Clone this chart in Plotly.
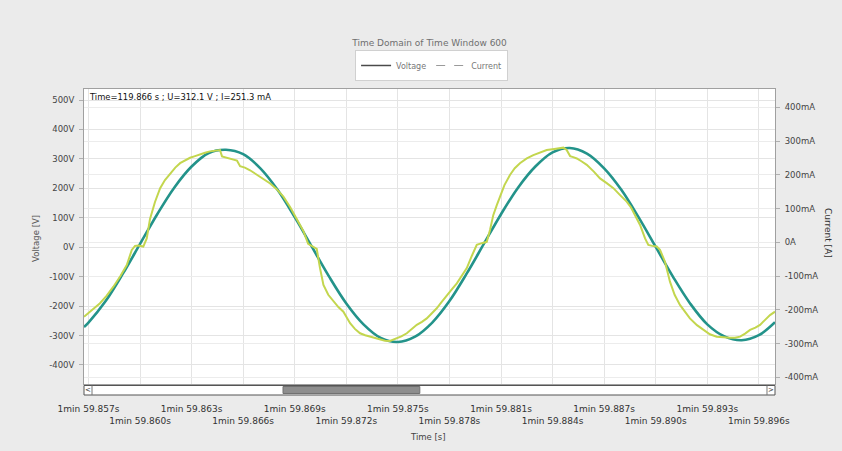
import plotly.graph_objects as go

# ---------------- data ----------------
# time axis: milliseconds after 1min 59.857s
X_TICKS_MS = [0, 3, 6, 9, 12, 15, 18, 21, 24, 27, 30, 33, 36, 39]
X_TICK_LABELS = ["1min 59.857s", "1min 59.860s", "1min 59.863s", "1min 59.866s",
                 "1min 59.869s", "1min 59.872s", "1min 59.875s", "1min 59.878s",
                 "1min 59.881s", "1min 59.884s", "1min 59.887s", "1min 59.890s",
                 "1min 59.893s", "1min 59.896s"]

V_TICKS = [-400, -300, -200, -100, 0, 100, 200, 300, 400, 500]
V_TICK_LABELS = ["-400V", "-300V", "-200V", "-100V", "0V", "100V", "200V", "300V", "400V", "500V"]
I_TICKS = [-400, -300, -200, -100, 0, 100, 200, 300, 400]
I_TICK_LABELS = ["-400mA", "-300mA", "-200mA", "-100mA", "0A", "100mA", "200mA", "300mA", "400mA"]

voltage_t_ms = [-0.26, 0, 1, 2, 3, 4, 5, 6, 7, 8, 9, 10, 11, 12, 13, 14, 15, 16, 17, 18, 19, 20,
                21, 22, 23, 24, 25, 26, 27, 28, 29, 30, 31, 32, 33, 34, 35, 36, 37, 38, 39, 39.94]
voltage_v = [-271, -256, -183, -90, 11, 112, 203, 274, 320, 331, 316, 268, 195, 102, 1, -100,
             -191, -262, -308, -322, -304, -256, -183, -90, 11, 112, 203, 274, 322, 337, 318,
             268, 195, 102, 1, -100, -191, -262, -303, -316, -299, -255]

current_t_ms = [-0.26, 0.67, 1.05, 1.45, 1.85, 2.23, 2.52, 2.71, 2.90, 3.19, 3.39, 3.58, 3.87,
                4.17, 4.45, 4.75, 5.05, 5.33, 5.62, 5.91, 6.2, 6.49, 6.78, 7.07, 7.3, 7.54, 7.65,
                7.77, 8.0, 8.24, 8.45, 8.64, 8.82, 9.1, 9.40, 9.7, 9.98, 10.3, 10.57, 10.95,
                11.34, 11.73, 12.12, 12.50, 12.78, 13.08, 13.28, 13.47, 13.67, 13.95, 14.25,
                14.55, 14.83, 15.22, 15.50, 15.80, 16.1, 16.38, 16.7, 16.96, 17.25, 17.54,
                17.93, 18.2, 18.52, 18.8, 19.10, 19.4, 19.68, 19.95, 20.26, 20.55, 20.84,
                21.15, 21.43, 21.7, 22.01, 22.3, 22.59, 22.88, 23.17, 23.36, 23.55, 23.75,
                23.94, 24.2, 24.52, 24.8, 25.10, 25.5, 25.88, 26.25, 26.66, 27.1, 27.63,
                27.82, 28.02, 28.2, 28.41, 28.7, 28.99, 29.4, 29.76, 30.15, 30.54, 30.9,
                31.31, 31.55, 31.80, 32.09, 32.38, 32.57, 32.8, 33.06, 33.25, 33.54, 33.83,
                34.1, 34.41, 34.7, 34.99, 35.4, 35.77, 36.15, 36.55, 36.9, 37.32, 37.6,
                37.91, 38.2, 38.49, 38.8, 39.07, 39.35, 39.65, 39.94]
current_ma = [-220, -180, -158, -131, -100, -67, -22, -10, -9, -12, 12, 70, 120,
              161, 185, 205, 222, 235, 244, 251, 256, 262, 266, 270, 272, 275, 274,
              255, 252, 247, 245, 243, 226, 222, 214, 204, 195, 183, 175, 158,
              136, 105, 67, 34, -4, -13, -19, -76, -126, -155, -175,
              -192, -205, -239, -256, -269, -275, -279, -285, -289, -291, -292,
              -284, -278, -269, -256, -244, -235, -225, -211, -195, -176, -156,
              -138, -121, -100, -76, -40, -7, -2, 2, 37, 81, 110,
              136, 170, 200, 220, 235, 249, 259, 267, 274, 277, 281,
              274, 256, 253, 249, 240, 230, 210, 190, 176, 161, 142,
              121, 105, 81, 52, 12, -7, -10, -12, -22, -57, -116,
              -155, -185, -207, -225, -245, -259, -272, -279, -281, -282, -282,
              -279, -270, -259, -252, -244, -230, -215, -205]

READOUT = "Time=119.866 s ; U=312.1 V ; I=251.3 mA"
TITLE = "Time Domain of Time Window 600"

# ---------------- styling ----------------
TEAL = "#23938a"
YELLOW = "#c3d64e"
GRID = "#e4e4e4"
FONT = "DejaVu Sans"

fig = go.Figure()

fig.add_trace(go.Scatter(x=voltage_t_ms, y=voltage_v, mode="lines", name="Voltage",
                         line=dict(color=TEAL, width=2.6, shape="spline"),
                         showlegend=False, xaxis="x", yaxis="y"))
fig.add_trace(go.Scatter(x=current_t_ms, y=current_ma, mode="lines", name="Current",
                         line=dict(color=YELLOW, width=2),
                         showlegend=False, xaxis="x", yaxis="y2"))
# legend entries (styled like the reference legend)
fig.add_trace(go.Scatter(x=[None], y=[None], mode="lines", name="Voltage",
                         line=dict(color="#4a4a4a", width=1.5), showlegend=True))
fig.add_trace(go.Scatter(x=[None], y=[None], mode="lines", name="Current",
                         line=dict(color="#9a9a9a", width=1.2, dash="dash"), showlegend=True))
# carrier for the second row of time labels
fig.add_trace(go.Scatter(x=[None], y=[None], xaxis="x2", yaxis="y", showlegend=False,
                         hoverinfo="skip"))

x_range = [-0.26, 39.94]
row1_text = [lab if i % 2 == 0 else "" for i, lab in enumerate(X_TICK_LABELS)]
row2_vals = [v for i, v in enumerate(X_TICKS_MS) if i % 2 == 1]
row2_text = [lab for i, lab in enumerate(X_TICK_LABELS) if i % 2 == 1]

fig.update_layout(
    width=842, height=451,
    margin=dict(l=84, r=67, t=89, b=67),
    paper_bgcolor="#ebebeb",
    plot_bgcolor="#ffffff",
    font=dict(family=FONT, size=9, color="#444"),
    title=dict(text=TITLE, x=0.5, xref="paper", xanchor="center",
               y=1 - 43 / 451, yref="container", yanchor="middle",
               font=dict(family=FONT, size=9, color="#6f6f6f")),
    legend=dict(orientation="h", x=0.503, xanchor="center", y=1.0797, yanchor="middle",
                bgcolor="#ffffff", bordercolor="#d0d0d0", borderwidth=1,
                font=dict(family=FONT, size=8, color="#777"), itemwidth=30,
                tracegroupgap=0),
    xaxis=dict(range=x_range, tickvals=X_TICKS_MS, ticktext=row1_text,
               showgrid=True, gridcolor=GRID, gridwidth=1, zeroline=False,
               showline=True, linecolor="#a0a0a0", mirror=True, ticks="",
               ticklabelstandoff=16, tickfont=dict(family=FONT, size=9, color="#333")),
    xaxis2=dict(range=x_range, overlaying="x", anchor="y", side="bottom",
                tickvals=row2_vals, ticktext=row2_text, showgrid=False, zeroline=False,
                showline=False, ticks="", ticklabelstandoff=30,
                tickfont=dict(family=FONT, size=9, color="#333")),
    yaxis=dict(range=[-464.7, 537.4], tickvals=V_TICKS, ticktext=V_TICK_LABELS,
               showgrid=True, gridcolor=GRID, zeroline=False,
               showline=True, linecolor="#a0a0a0", mirror=True,
               ticks="outside", ticklen=4, tickcolor="#b0b0b0", ticklabelstandoff=3,
               tickfont=dict(family=FONT, size=8.5, color="#444")),
    yaxis2=dict(range=[-419.3, 454.8], overlaying="y", side="right", anchor="x",
                tickvals=I_TICKS, ticktext=I_TICK_LABELS,
                showgrid=True, gridcolor="#ececec", zeroline=False, showline=False,
                ticks="outside", ticklen=4, tickcolor="#b0b0b0", ticklabelstandoff=3,
                tickfont=dict(family=FONT, size=8.5, color="#444")),
)

# axis titles and readout
fig.add_annotation(text="Voltage [V]", xref="paper", yref="paper", x=-0.0695, y=0.495,
                   xanchor="center", yanchor="middle",
                   textangle=-90, showarrow=False, font=dict(family=FONT, size=8.5, color="#555"))
fig.add_annotation(text="Current [A]", xref="paper", yref="paper", x=1.0767, y=0.512,
                   xanchor="center", yanchor="middle",
                   textangle=90, showarrow=False, font=dict(family=FONT, size=9, color="#333"))
fig.add_annotation(text="Time [s]", xref="paper", yref="paper", x=0.498, y=-0.179,
                   xanchor="center", yanchor="middle",
                   showarrow=False, font=dict(family=FONT, size=8.5, color="#444"))
fig.add_annotation(text=READOUT, xref="paper", yref="paper", x=0.004, y=0.973,
                   xanchor="left", yanchor="middle", showarrow=False,
                   font=dict(family=FONT, size=8.4, color="#111"))

# scrollbar under the plot
fig.add_shape(type="rect", xref="paper", yref="paper", x0=0, x1=1, y0=-0.0373, y1=-0.0051,
              fillcolor="#ffffff", line=dict(color="#555", width=1), layer="above")
fig.add_shape(type="rect", xref="paper", yref="paper", x0=0.288, x1=0.486, y0=-0.0322, y1=-0.0085,
              fillcolor="#8e8e8e", line=dict(color="#707070", width=1), layer="above")
fig.add_shape(type="line", xref="paper", yref="paper", x0=0.0116, x1=0.0116, y0=-0.0373, y1=-0.0051,
              line=dict(color="#777", width=1), layer="above")
fig.add_shape(type="line", xref="paper", yref="paper", x0=0.9884, x1=0.9884, y0=-0.0373, y1=-0.0051,
              line=dict(color="#777", width=1), layer="above")
fig.add_annotation(text="&lt;", xref="paper", yref="paper", x=0.006, y=-0.021, showarrow=False,
                   xanchor="center", yanchor="middle",
                   font=dict(family=FONT, size=7, color="#333"))
fig.add_annotation(text="&gt;", xref="paper", yref="paper", x=0.994, y=-0.021, showarrow=False,
                   xanchor="center", yanchor="middle",
                   font=dict(family=FONT, size=7, color="#333"))

fig.write_html("out.html",
               config={"displayModeBar": False},
               post_script="document.body.style.margin='0px';"
                           "document.body.style.overflow='hidden';"
                           "document.body.style.background='#ebebeb';")
